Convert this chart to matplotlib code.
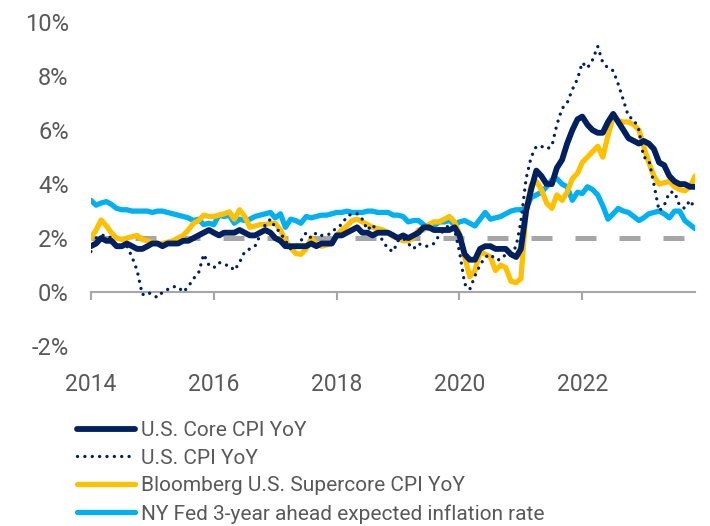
import numpy as np
import pandas as pd
import matplotlib
matplotlib.use("Agg")
import matplotlib.pyplot as plt

plt.rcParams['font.family'] = ['Roboto', 'DejaVu Sans']

# monthly, Mar 2014 .. Jan 2024
dates = pd.date_range("2014-03-01", "2024-01-01", freq="MS")

core_cpi = [
    1.7, 1.8, 2.0, 1.9, 1.9, 1.7, 1.7, 1.8, 1.7, 1.6,
    1.6, 1.7, 1.8, 1.8, 1.7, 1.8, 1.8, 1.8, 1.9, 1.9, 2.0, 2.1,
    2.2, 2.3, 2.2, 2.1, 2.2, 2.2, 2.2, 2.3, 2.2, 2.1, 2.1, 2.2,
    2.3, 2.2, 2.0, 1.9, 1.7, 1.7, 1.7, 1.7, 1.7, 1.8, 1.7, 1.8,
    1.8, 1.8, 2.1, 2.1, 2.2, 2.3, 2.4, 2.2, 2.2, 2.1, 2.2, 2.2,
    2.2, 2.1, 2.0, 2.1, 2.0, 2.1, 2.2, 2.4, 2.4, 2.3, 2.3, 2.3,
    2.3, 2.4, 2.1, 1.4, 1.2, 1.2, 1.6, 1.7, 1.7, 1.6, 1.6, 1.6,
    1.4, 1.3, 1.6, 3.0, 3.8, 4.5, 4.3, 4.0, 4.0, 4.6, 4.9, 5.5,
    6.0, 6.4, 6.5, 6.2, 6.0, 5.9, 5.9, 6.3, 6.6, 6.3, 6.0, 5.7,
    5.6, 5.5, 5.6, 5.5, 5.3, 4.8, 4.7, 4.3, 4.1, 4.0, 4.0, 3.9,
    3.9,
]

cpi = [
    1.5, 2.0, 2.1, 2.1, 2.0, 1.7, 1.7, 1.7, 1.3, 0.8,
    -0.1, 0.0, -0.1, -0.2, 0.0, 0.1, 0.2, 0.2, 0.0, 0.2, 0.5, 0.7,
    1.4, 1.0, 0.9, 1.1, 1.0, 1.0, 0.8, 1.1, 1.5, 1.6, 1.7, 2.1,
    2.5, 2.7, 2.4, 2.2, 1.9, 1.6, 1.7, 1.9, 2.2, 2.0, 2.2, 2.1,
    2.1, 2.2, 2.4, 2.5, 2.8, 2.9, 2.9, 2.7, 2.3, 2.5, 2.2, 1.9,
    1.6, 1.5, 1.9, 2.0, 1.8, 1.6, 1.8, 1.7, 1.7, 1.8, 2.1, 2.3,
    2.5, 2.3, 1.5, 0.3, 0.1, 0.6, 1.0, 1.3, 1.4, 1.2, 1.2, 1.4,
    1.4, 1.7, 2.6, 4.2, 5.0, 5.4, 5.4, 5.3, 5.4, 6.2, 6.8, 7.0,
    7.5, 7.9, 8.5, 8.3, 8.6, 9.1, 8.5, 8.3, 8.2, 7.7, 7.1, 6.5,
    6.4, 6.0, 5.0, 4.9, 4.0, 3.0, 3.2, 3.7, 3.7, 3.2, 3.1, 3.4,
    3.1,
]

supercore = [
    2.0, 2.3, 2.67, 2.45, 2.2, 2.0, 1.95, 2.0, 2.05, 2.1,
    1.95, 1.9, 1.85, 1.8, 1.8, 1.85, 1.9, 2.0, 2.1, 2.3, 2.55, 2.65,
    2.85, 2.8, 2.8, 2.85, 2.9, 2.97, 2.7, 3.05, 2.8, 2.4, 2.45, 2.5,
    2.5, 2.55, 2.55, 2.3, 1.9, 1.65, 1.43, 1.4, 1.6, 2.0, 1.8, 1.7,
    1.75, 1.8, 2.1, 2.3, 2.45, 2.65, 2.7, 2.6, 2.5, 2.4, 2.35, 2.3,
    2.2, 2.05, 2.0, 1.9, 1.9, 2.0, 2.3, 2.3, 2.5, 2.6, 2.6, 2.7,
    2.8, 2.6, 2.15, 1.3, 0.57, 0.8, 1.5, 1.4, 1.3, 0.8, 1.0, 0.9,
    0.4, 0.35, 0.5, 3.0, 3.96, 4.1, 3.8, 3.3, 3.1, 3.6, 3.4, 3.7,
    4.2, 4.4, 4.8, 5.0, 5.2, 5.4, 5.0, 5.8, 6.5, 6.35, 6.3, 6.3,
    6.2, 6.0, 5.4, 4.8, 4.3, 4.0, 4.05, 4.1, 3.9, 3.8, 3.75, 3.9,
    4.3,
]

nyfed_3y = [
    3.4, 3.22, 3.3, 3.35, 3.25, 3.1, 3.05, 3.05, 3.0, 3.0,
    3.0, 3.0, 2.95, 3.0, 3.0, 2.95, 2.9, 2.85, 2.8, 2.75, 2.65, 2.7,
    2.5, 2.55, 2.5, 2.85, 2.8, 2.85, 2.55, 2.7, 2.65, 2.7, 2.8, 2.85,
    2.9, 2.95, 2.75, 2.9, 2.4, 2.7, 2.65, 2.55, 2.8, 2.75, 2.8, 2.85,
    2.85, 2.9, 2.95, 2.95, 3.0, 2.95, 2.95, 2.95, 3.0, 3.0, 2.95, 2.95,
    2.95, 2.85, 2.85, 2.8, 2.6, 2.65, 2.65, 2.5, 2.35, 2.45, 2.6, 2.6,
    2.65, 2.5, 2.6, 2.65, 2.55, 2.45, 2.7, 2.95, 2.7, 2.75, 2.8, 2.9,
    3.0, 3.05, 3.05, 3.1, 3.5, 3.6, 3.7, 3.9, 4.15, 4.2, 4.0, 3.9,
    3.4, 3.7, 3.65, 3.9, 3.8, 3.6, 3.2, 2.7, 2.9, 3.1, 3.0, 2.95,
    2.8, 2.65, 2.75, 2.9, 2.95, 3.0, 2.9, 2.75, 3.0, 3.0, 2.65, 2.5,
    2.35,
]

target = 2.0
yticks = [-2, 0, 2, 4, 6, 8, 10]
xtick_years = [2014, 2016, 2018, 2020, 2022]

navy = "#002060"
gold = "#FFC000"
sky = "#00B0F0"
grey = "#A6A6A6"
txt = "#595959"
dotted = (0, (0.01, 2.2))

fig = plt.figure(figsize=(7.1, 5.26), dpi=100)
ax = fig.add_axes([0.128, 0.342, 0.851, 0.616])

ax.plot(dates, [target] * len(dates), color=grey, lw=3.6, ls=(0, (4.2, 4.6)), zorder=1)
l1, = ax.plot(dates, core_cpi, color=navy, lw=4.2, solid_capstyle="round", zorder=4)
l2, = ax.plot(dates, cpi, color=navy, lw=2.4, ls=dotted, dash_capstyle="round", zorder=5)
l3, = ax.plot(dates, supercore, color=gold, lw=3.8, solid_capstyle="round", zorder=3)
l4, = ax.plot(dates, nyfed_3y, color=sky, lw=3.8, solid_capstyle="round", zorder=2)

ax.set_xlim(dates[0], dates[-1])
ax.set_ylim(-2, 10)
ax.set_yticks(yticks)
ax.set_yticklabels([f"{v}%" for v in yticks])
ax.set_xticks([pd.Timestamp(f"{y}-03-01") for y in xtick_years])
ax.set_xticklabels([str(y) for y in xtick_years])

for s in ["top", "right", "left"]:
    ax.spines[s].set_visible(False)
ax.spines["bottom"].set_position(("data", 0))
ax.spines["bottom"].set_color(grey)
ax.spines["bottom"].set_linewidth(1.5)
ax.tick_params(axis="x", direction="out", length=6, width=1.5, color=grey,
               labelsize=16.5, labelcolor=txt, pad=52)
ax.tick_params(axis="y", length=0, labelsize=17, labelcolor=txt, pad=16)

leg = fig.legend([l1, l2, l3, l4],
                 ["U.S. Core CPI YoY", "U.S. CPI YoY", "Bloomberg U.S. Supercore CPI YoY",
                  "NY Fed 3-year ahead expected inflation rate"],
                 loc="upper left", bbox_to_anchor=(0.108, 0.2), frameon=False,
                 fontsize=15, labelcolor=txt, handlelength=2.8, handletextpad=0.3,
                 labelspacing=0.42, borderpad=0, borderaxespad=0)

fig.savefig("out.png", dpi=100)
